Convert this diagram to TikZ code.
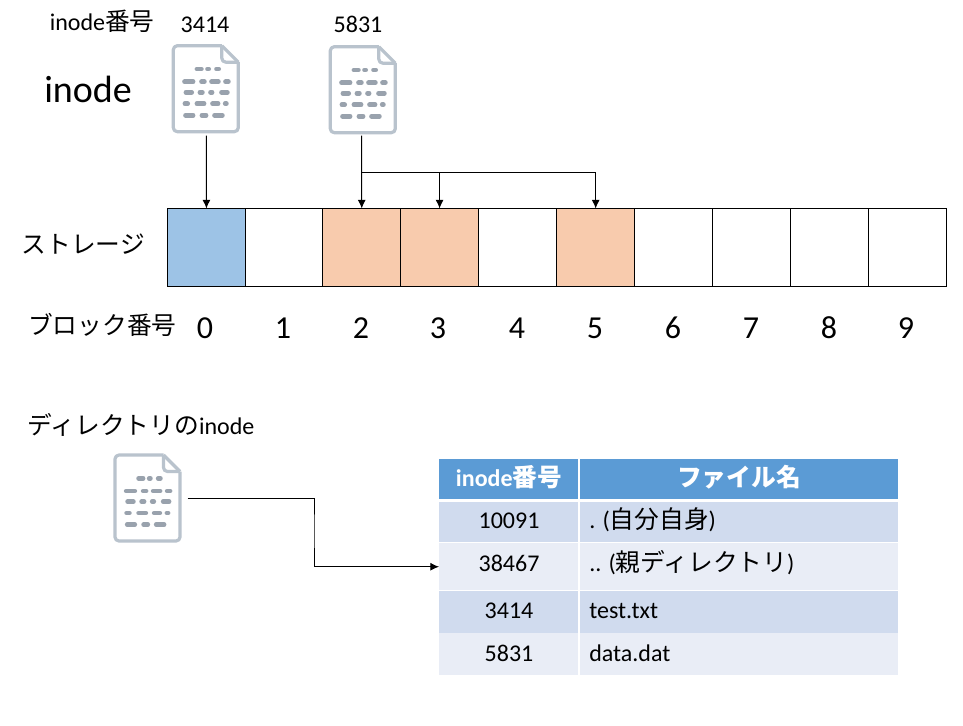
\documentclass[tikz,border=0pt]{standalone}
\usepackage{fontspec}
\setmainfont{Carlito}
\newfontfamily\jp[Scale=1.03]{Noto Sans CJK JP}
\usetikzlibrary{arrows.meta}
\definecolor{iconline}{HTML}{B9C3CD}
\definecolor{icondash}{HTML}{99A2AD}
\definecolor{headblue}{HTML}{5B9BD5}
\definecolor{rowdark}{HTML}{D0DBEE}
\definecolor{rowlight}{HTML}{E9EDF6}
\definecolor{blockblue}{HTML}{9DC3E6}
\definecolor{blockorange}{HTML}{F8CBAD}
\newcommand{\dsh}[3]{\draw[icondashline] (#1+1.9,#3) -- (#2-1.9,#3);}
\tikzset{
  x=0.75pt, y=-0.75pt,
  lbl/.style={inner sep=0pt, anchor=base west, font=\fontsize{18}{20}\selectfont, text=black},
  lblc/.style={inner sep=0pt, anchor=base, font=\fontsize{18}{20}\selectfont, text=black},
  bigl/.style={lbl, font=\fontsize{28.5}{30}\selectfont},
  digit/.style={lblc, font=\fontsize{24}{26}\selectfont},
  head/.style={lblc, font=\fontsize{18}{20}\selectfont\bfseries, text=white},
  block/.style={draw=black, line width=0.75pt, minimum width=58.4pt, minimum height=58.5pt, inner sep=0pt, outer sep=0pt, anchor=north west},
  docbox/.style={inner sep=0pt, outer sep=0pt, minimum width=48.75pt, minimum height=64.5pt, anchor=north west},
  cell/.style={inner sep=0pt, outer sep=0pt, anchor=north west},
  conn/.style={draw=black, line width=0.75pt},
  arr/.style={conn, -{Latex[length=6.5pt,width=6pt]}},
  icondashline/.style={draw=icondash, line width=3.5pt, line cap=round},
  docicon/.pic={
    \draw[iconline, line width=2.4pt, line join=round, rounded corners=3pt]
      (48.5,0) -- (0,0) -- (0,86) -- (65,86) -- (65,16.5);
    \draw[iconline, line width=2.4pt, line join=round] (48.5,0) -- (65,16.5);
    \draw[iconline, line width=2.4pt, line join=round, rounded corners=3pt] (48.5,0) -- (48.5,16.5) -- (65,16.5);
    \dsh{21.7}{30}{23.3}\dsh{32.3}{37.3}{23.3}\dsh{41.3}{47.3}{23.3}
    \dsh{9.3}{21.7}{36}\dsh{26.3}{33}{36}\dsh{36.3}{47}{36}\dsh{50.3}{57}{36}
    \dsh{10.7}{20.3}{46.6}\dsh{24.7}{31}{46.6}\dsh{35.3}{40.7}{46.6}\dsh{46.3}{56}{46.6}
    \dsh{9.7}{16.3}{58}\dsh{21.7}{32.7}{58}\dsh{37.3}{46.7}{58}\dsh{50}{55}{58}
    \dsh{10.3}{21.7}{69.6}\dsh{26.7}{34.7}{69.6}\dsh{39.3}{51}{69.6}
  }
}
\begin{document}
\begin{tikzpicture}
\useasboundingbox[fill=white] (0,0) rectangle (963,725);

% labels
\node[lbl] (tnum) at (49.5,30) {inode{\jp 番号}};
\node[lblc] (n1) at (205,32) {3414};
\node[lblc] (n2) at (358,32) {5831};
\node[bigl] (tinode) at (44,102) {inode};
\node[lbl] (tstor) at (21.5,253) {\jp ストレージ};
\node[lbl] (tblk) at (28,334) {\jp ブロック番号};
\node[lbl] (tdir) at (27.5,434) {{\jp ディレクトリの}inode};

% documents
\node[docbox] (d1) at (173.3,45.7) {};
\node[docbox] (d2) at (330.3,46.7) {};
\node[docbox] (d3) at (115,455) {};
\pic at (d1.north west) {docicon};
\pic at (d2.north west) {docicon};
\pic at (d3.north west) {docicon};

% blocks
\node[block, fill=blockblue] (b0) at (167.5,208.5) {};
\node[block] (b1) at (245.35,208.5) {};
\node[block, fill=blockorange] (b2) at (322.8,208.5) {};
\node[block, fill=blockorange] (b3) at (400.65,208.5) {};
\node[block] (b4) at (478.9,208.5) {};
\node[block, fill=blockorange] (b5) at (556.75,208.5) {};
\node[block] (b6) at (634.6,208.5) {};
\node[block] (b7) at (712.45,208.5) {};
\node[block] (b8) at (790.3,208.5) {};
\node[block] (b9) at (868.15,208.5) {};

% block numbers
\node[digit] (k0) at (205,338) {0};
\node[digit] (k1) at (283,338) {1};
\node[digit] (k2) at (361,338) {2};
\node[digit] (k3) at (438,338) {3};
\node[digit] (k4) at (517,338) {4};
\node[digit] (k5) at (595,338) {5};
\node[digit] (k6) at (673,338) {6};
\node[digit] (k7) at (751,338) {7};
\node[digit] (k8) at (829,338) {8};
\node[digit] (k9) at (906,338) {9};

% connectors
\coordinate (s1) at (206.4,135.5);
\coordinate (s2) at (361.7,135.5);
\coordinate (j2) at (361.7,172.7);
\coordinate (s3) at (187.5,498);
\coordinate (m3) at (314,530);
\draw[arr] (s1) -- (b0.north);
\draw[arr] (s2) -- (b2.north);
\draw[arr] (j2) -| (b3.north);
\draw[arr] (j2) -| (b5.north);

% table
\node[cell, fill=headblue, minimum width=104pt, minimum height=30pt] (h1) at (439,458.5) {};
\node[cell, fill=headblue, minimum width=238.9pt, minimum height=30pt] (h2) at (579.5,458.5) {};
\node[cell, fill=rowdark, minimum width=104pt, minimum height=29.5pt] (c1a) at (439,502.3) {};
\node[cell, fill=rowdark, minimum width=238.9pt, minimum height=29.5pt] (c1b) at (579.5,502.3) {};
\node[cell, fill=rowlight, minimum width=104pt, minimum height=35.3pt] (c2a) at (439,543.2) {};
\node[cell, fill=rowlight, minimum width=238.9pt, minimum height=35.3pt] (c2b) at (579.5,543.2) {};
\node[cell, fill=rowdark, minimum width=104pt, minimum height=31.4pt] (c3a) at (439,591) {};
\node[cell, fill=rowdark, minimum width=238.9pt, minimum height=31.4pt] (c3b) at (579.5,591) {};
\node[cell, fill=rowlight, minimum width=104pt, minimum height=31.2pt] (c4a) at (439,633.4) {};
\node[cell, fill=rowlight, minimum width=238.9pt, minimum height=31.2pt] (c4b) at (579.5,633.4) {};

\node[head] (th1) at (509,486) {inode{\jp\bfseries 番号}};
\node[head] (th2) at (739,486) {\jp\bfseries ファイル名};
\node[lblc] (t1a) at (509,528.5) {10091};
\node[lbl] (t1b) at (589,528.5) {. ({\jp 自分自身})};
\node[lblc] (t2a) at (509,571) {38467};
\node[lbl] (t2b) at (589,571) {.. ({\jp 親ディレクトリ})};
\node[lblc] (t3a) at (509,618.7) {3414};
\node[lbl] (t3b) at (589,618.7) {test.txt};
\node[lblc] (t4a) at (509,661.7) {5831};
\node[lbl] (t4b) at (589,661.7) {data.dat};

\draw[arr] (s3) -| (m3) |- (c2a.west);
\end{tikzpicture}
\end{document}
